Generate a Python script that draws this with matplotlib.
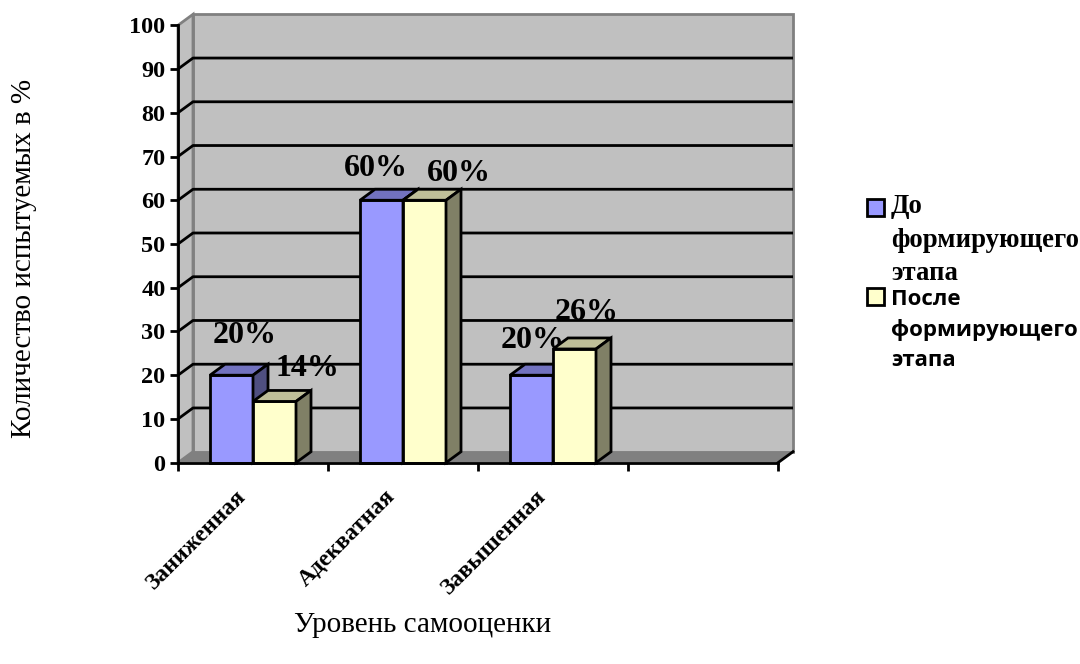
import matplotlib
matplotlib.use("Agg")
import matplotlib.pyplot as plt
from matplotlib.patches import Polygon, Rectangle

categories = ["Заниженная", "Адекватная", "Завышенная"]
before = [20, 60, 20]
after = [14, 60, 26]
before_name = "До\nформирующего\nэтапа"
after_name = "После\nформирующего\nэтапа"
y_ticks = list(range(0, 101, 10))
n_slots = 4

W, H = 1080, 664
SERIF = "Liberation Serif"

# plot box in pixels
left, right, top, bottom = 178, 778, 25.3, 462.7
px_x = n_slots / (right - left)
px_y = 100 / (bottom - top)
dx = 15 * px_x  # depth of the fake 3d
dy = 11 * px_y
bar_w = 43 * px_x


def poly(ax, pts, color, edge="none", lw=2.0, z=1):
    ax.add_patch(Polygon(pts, closed=True, facecolor=color, edgecolor=edge,
                         linewidth=lw, zorder=z, clip_on=False, joinstyle="miter"))


def bar_3d(ax, x0, value, front, top_c, side_c, z):
    ax.bar(x0, value, bar_w, align="edge", color=front, edgecolor="black",
           linewidth=2.0, zorder=z, clip_on=False)
    x1 = x0 + bar_w
    poly(ax, [(x0, value), (x0 + dx, value + dy), (x1 + dx, value + dy), (x1, value)],
         top_c, "black", z=z)
    poly(ax, [(x1, 0), (x1 + dx, dy), (x1 + dx, value + dy), (x1, value)],
         side_c, "black", z=z)


def label(ax, x, y, text, off, z):
    ax.annotate(text, (x, y), xytext=(off[0] * 0.72, off[1] * 0.72),
                textcoords="offset points", ha="center", va="center",
                fontsize=23, fontweight="bold", family=SERIF, zorder=z,
                annotation_clip=False)


fig = plt.figure(figsize=(W / 100, H / 100), dpi=100)
ax = fig.add_axes([left / W, 1 - bottom / H, (right - left) / W, (bottom - top) / H])
ax.set_xlim(0, n_slots)
ax.set_ylim(0, 100)
ax.patch.set_visible(False)

# walls and floor
poly(ax, [(dx, dy), (n_slots + dx, dy), (n_slots + dx, 100 + dy), (dx, 100 + dy)],
     "#c0c0c0", "#808080", z=0)
poly(ax, [(0, 0), (dx, dy), (dx, 100 + dy), (0, 100)], "#c0c0c0", "#808080", z=0)
poly(ax, [(0, 0), (n_slots, 0), (n_slots + dx, dy), (dx, dy)], "#808080", z=0.5)

# gridlines run along the side wall and the back wall
for t in y_ticks[1:-1]:
    ax.plot([0, dx, n_slots + dx], [t, t + dy, t + dy], color="black", lw=2.0,
            zorder=0.8, clip_on=False, solid_capstyle="butt")
ax.plot([n_slots, n_slots + dx], [0, dy], color="black", lw=2.0, zorder=0.8, clip_on=False)

# label offsets from the bar's top centre, in pixels
before_off = [(13, 40), (-6, 32), (1, 35)]
after_off = [(33, 33), (34, 27), (12, 36)]

for i, (a, b) in enumerate(zip(before, after)):
    c = i + 0.5
    bar_3d(ax, c - bar_w, a, "#9999ff", "#7272bf", "#4f4f80", 2)
    bar_3d(ax, c, b, "#ffffcc", "#bfbf99", "#808066", 4)
    label(ax, c - bar_w / 2, a, f"{a}%", before_off[i], 3)
    label(ax, c + bar_w / 2, b, f"{b}%", after_off[i], 5)

for side in ("top", "right"):
    ax.spines[side].set_visible(False)
for side in ("left", "bottom"):
    ax.spines[side].set_linewidth(2.0)
    ax.spines[side].set_zorder(6)

ax.set_yticks(y_ticks)
ax.set_yticklabels(y_ticks, fontsize=17.5, fontweight="bold", family=SERIF)
ax.tick_params(axis="y", length=6, width=2.0, pad=3)
ax.set_xticks(range(n_slots + 1))
ax.set_xticklabels([])
ax.tick_params(axis="x", length=6, width=2.0)

ax.set_xticks([i + 0.38 for i in range(len(categories))], minor=True)
ax.set_xticklabels(categories, minor=True, rotation=45, ha="right", va="top",
                   rotation_mode="anchor", fontsize=17, fontweight="bold", family=SERIF)
ax.tick_params(axis="x", which="minor", length=0, pad=16.5)

fig.text(24 / W, 1 - 258 / H, "Количество испытуемых в %", rotation=90, ha="center",
         va="center", fontsize=21, family=SERIF)
fig.text(423 / W, 1 - 625 / H, "Уровень самооценки", ha="center", va="center",
         fontsize=21, family=SERIF)

# legend, wrapped by hand like the original
for y, color, name, y_text, fam, size, spacing in [
    (199, "#9999ff", before_name, 240, SERIF, 19.3, 1.43),
    (288, "#ffffcc", after_name, 330, "Open Sans", 16, 1.55),
]:
    fig.add_artist(Rectangle((867 / W, 1 - (y + 17) / H), 17 / W, 17 / H,
                             transform=fig.transFigure, facecolor=color,
                             edgecolor="black", linewidth=2.0))
    fig.text(891 / W, 1 - y_text / H, name, ha="left", va="center", fontsize=size,
             fontweight="bold", family=fam, linespacing=spacing)

fig.savefig("out.png", dpi=100)
